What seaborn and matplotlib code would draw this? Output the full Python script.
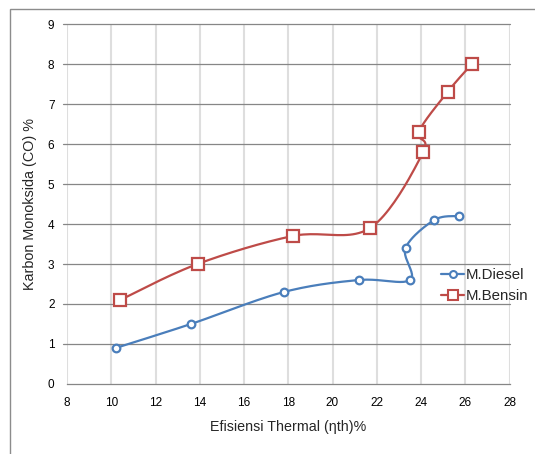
import numpy as np
import pandas as pd
import matplotlib
matplotlib.use("Agg")
import matplotlib.pyplot as plt
from matplotlib.lines import Line2D
from matplotlib.patches import Rectangle
import seaborn as sns

diesel_x = [10.2, 13.6, 17.8, 21.2, 23.5, 23.3, 24.6, 25.7]
diesel_y = [0.9, 1.5, 2.3, 2.6, 2.6, 3.4, 4.1, 4.2]
bensin_x = [10.4, 13.9, 18.2, 21.7, 24.1, 23.9, 25.2, 26.3]
bensin_y = [2.1, 3.0, 3.7, 3.9, 5.8, 6.3, 7.3, 8.0]
series_names = ["M.Diesel", "M.Bensin"]
x_ticks = [8, 10, 12, 14, 16, 18, 20, 22, 24, 26, 28]
y_ticks = [0, 1, 2, 3, 4, 5, 6, 7, 8, 9]

BLUE = "#4a7ebb"
RED = "#be4b48"


def smooth(xs, ys, n=24):
    # Catmull-Rom smoothing, similar to a spreadsheet "smoothed line"
    p = np.column_stack([xs, ys]).astype(float)
    p = np.vstack([p[0], p, p[-1]])
    out = []
    t = np.linspace(0, 1, n, endpoint=False)
    for i in range(1, len(p) - 2):
        p0, p1, p2, p3 = p[i - 1], p[i], p[i + 1], p[i + 2]
        t2, t3 = t * t, t * t * t
        seg = 0.5 * ((2 * p1)[None, :] + (-p0 + p2)[None, :] * t[:, None]
                     + (2 * p0 - 5 * p1 + 4 * p2 - p3)[None, :] * t2[:, None]
                     + (-p0 + 3 * p1 - 3 * p2 + p3)[None, :] * t3[:, None])
        out.append(seg)
    out.append(p[-2][None, :])
    s = np.vstack(out)
    return s[:, 0], s[:, 1]


sns.set_theme(style="white")
plt.rcParams["font.family"] = ["Liberation Sans", "DejaVu Sans"]

fig = plt.figure(figsize=(5.35, 4.54), dpi=100)
fig.patches.append(Rectangle((9.5 / 535, -0.05), 1.1, 1 - 9.5 / 454 + 0.05,
                             transform=fig.transFigure, fill=False,
                             edgecolor="#8c8c8c", linewidth=1.0))
ax = fig.add_axes([67 / 535, 1 - 384 / 454, (509.5 - 67) / 535, (384 - 24) / 454])

for x in x_ticks:
    ax.axvline(x, color="#dedede", linewidth=1.5, zorder=0)
for y in y_ticks[1:]:
    ax.axhline(y, xmin=-0.008, color="#868686", linewidth=0.9, zorder=0,
               clip_on=False)

for xs, ys, col, mk, ms, name in [
    (diesel_x, diesel_y, BLUE, "o", 5.5, series_names[0]),
    (bensin_x, bensin_y, RED, "s", 8, series_names[1]),
]:
    sx, sy = smooth(xs, ys)
    sns.lineplot(x=sx, y=sy, sort=False, estimator=None, color=col,
                 linewidth=1.6, ax=ax, zorder=2)
    df = pd.DataFrame({"x": xs, "y": ys})
    ax.plot(df["x"], df["y"], linestyle="none", marker=mk, markersize=ms,
            markerfacecolor="white", markeredgecolor=col, markeredgewidth=1.6,
            zorder=3)

ax.set_xlim(8, 28)
ax.set_ylim(0, 9)
ax.set_xticks(x_ticks)
ax.set_yticks(y_ticks)
ax.tick_params(axis="both", labelsize=8.5, colors="#000000", length=0)
ax.tick_params(axis="y", pad=9)
ax.tick_params(axis="x", length=4, direction="out", color="#868686", pad=5)
for s in ["top", "right", "left"]:
    ax.spines[s].set_visible(False)
ax.spines["bottom"].set_color("#868686")
ax.spines["bottom"].set_linewidth(0.9)

ax.set_xlabel("Efisiensi Thermal (\u03b7th)%", fontsize=10.3, labelpad=8)
ax.set_ylabel("Karbon Monoksida (CO) %", fontsize=10.4, labelpad=8)

handles = [
    Line2D([], [], color=BLUE, marker="o", markersize=5, markerfacecolor="white",
           markeredgecolor=BLUE, markeredgewidth=1.5, linewidth=1.6),
    Line2D([], [], color=RED, marker="s", markersize=7.5, markerfacecolor="white",
           markeredgecolor=RED, markeredgewidth=1.5, linewidth=1.6),
]
fig.legend(handles, series_names, loc="center left",
           bbox_to_anchor=(441 / 535, 1 - 285.5 / 454), frameon=False,
           fontsize=10.8, handlelength=1.55, handletextpad=0.1, labelspacing=0.45,
           borderpad=0, borderaxespad=0)

fig.savefig("out.png", dpi=100)
